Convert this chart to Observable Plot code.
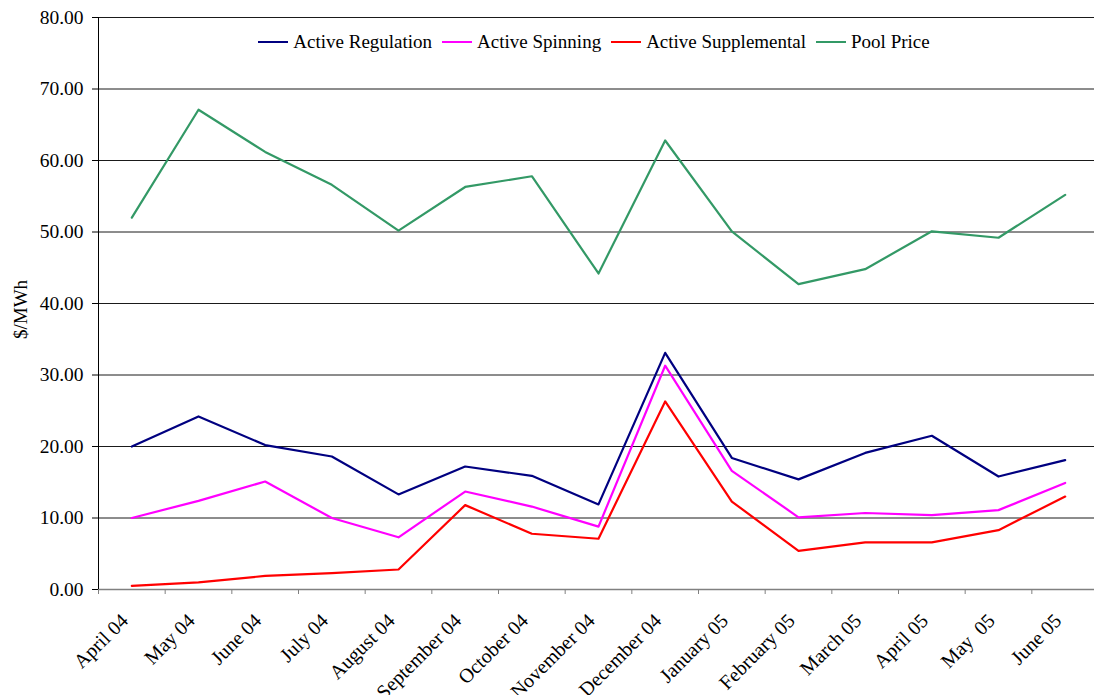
<!DOCTYPE html>
<html>
<head>
<meta charset="utf-8">
<script src="https://cdn.jsdelivr.net/npm/d3@7"></script>
<script src="https://cdn.jsdelivr.net/npm/@observablehq/plot@0.6"></script>
<style>
  html, body { margin: 0; padding: 0; background: #fff; overflow: hidden; }
  #wrap { position: relative; width: 1094px; height: 695px; }
  svg text { white-space: pre; font-family: "Liberation Serif", "Times New Roman", serif; }
  #legend { position: absolute; top: 31px; left: 0; width: 1094px; padding-left: 94px; box-sizing: border-box;
            display: flex; justify-content: center; font-family: "Liberation Serif", "Times New Roman", serif; font-size: 19px; color: #000; }
  .item { display: flex; align-items: center; margin: 0 5px; }
  .sw { width: 30px; height: 2.5px; margin-right: 5px; }
</style>
</head>
<body>
<div id="wrap"></div>
<script>
const months = ["April 04","May 04","June 04","July 04","August 04","September 04","October 04","November 04","December 04","January 05","February 05","March 05","April 05","May  05","June 05"];
const seriesNames = ["Active Regulation","Active Spinning","Active Supplemental","Pool Price"];
const seriesColors = ["#000080","#FF00FF","#FF0000","#339966"];
const activeRegulation = [20.0, 24.2, 20.2, 18.6, 13.3, 17.2, 15.9, 11.9, 33.1, 18.4, 15.4, 19.1, 21.5, 15.8, 18.1];
const activeSpinning = [10.0, 12.4, 15.1, 10.0, 7.3, 13.7, 11.6, 8.8, 31.3, 16.6, 10.1, 10.7, 10.4, 11.1, 14.9];
const activeSupplemental = [0.5, 1.0, 1.9, 2.3, 2.8, 11.8, 7.8, 7.1, 26.3, 12.3, 5.4, 6.6, 6.6, 8.3, 13.0];
const poolPrice = [52.0, 67.1, 61.2, 56.6, 50.2, 56.3, 57.8, 44.2, 62.8, 50.1, 42.7, 44.8, 50.1, 49.2, 55.2];
const yTicks = [0, 10, 20, 30, 40, 50, 60, 70, 80];
const yLabel = "$/MWh";

const seriesValues = [activeRegulation, activeSpinning, activeSupplemental, poolPrice];
const data = seriesNames.flatMap((name, s) => seriesValues[s].map((v, i) => ({series: name, i: i + 0.5, value: v})));
const boundaries = d3.range(0, months.length + 1);
const centers = months.map((m, i) => ({i: i + 0.5, label: m}));

const chart = Plot.plot({
  width: 1094,
  height: 695,
  marginLeft: 98,
  marginRight: 0,
  marginTop: 17,
  marginBottom: 106,
  style: {fontFamily: "Liberation Serif", fontSize: "19px", background: "#fff", color: "#000", overflow: "visible"},
  x: {type: "linear", domain: [0, months.length], range: [98, 1098]},
  y: {domain: [0, 80]},
  color: {domain: seriesNames, range: seriesColors},
  marks: [
    Plot.ruleY(yTicks.filter(d => d > 0), {stroke: "#1a1a1a", strokeWidth: 1}),
    Plot.ruleY([0], {stroke: "#808080", strokeWidth: 1.5}),
    Plot.ruleX([0], {stroke: "#000", strokeWidth: 1}),
    Plot.axisY({ticks: yTicks, tickFormat: d3.format(".2f"), tickSize: 6, tickPadding: 9, label: null, stroke: "#000", fontSize: 19.5}),
    Plot.axisX({ticks: boundaries, tickSize: 5, tickFormat: () => "", label: null, stroke: "#808080"}),
    Plot.text(centers, {x: "i", text: "label", frameAnchor: "bottom", rotate: -45, textAnchor: "end", lineAnchor: "middle", dy: 28, dx: -7, fontSize: 20, fill: "#000"}),
    Plot.text([yLabel], {frameAnchor: "left", textAnchor: "middle", rotate: -90, dx: -78, dy: 6, fontSize: 19, fill: "#000"}),
    Plot.line(data, {x: "i", y: "value", z: "series", stroke: "series", strokeWidth: 2.2})
  ]
});

const wrap = document.getElementById("wrap");
wrap.appendChild(chart);

const legend = document.createElement("div");
legend.id = "legend";
seriesNames.forEach((name, s) => {
  const item = document.createElement("div");
  item.className = "item";
  const sw = document.createElement("div");
  sw.className = "sw";
  sw.style.background = seriesColors[s];
  const t = document.createElement("span");
  t.textContent = name;
  item.appendChild(sw);
  item.appendChild(t);
  legend.appendChild(item);
});
wrap.appendChild(legend);
</script>
</body>
</html>
